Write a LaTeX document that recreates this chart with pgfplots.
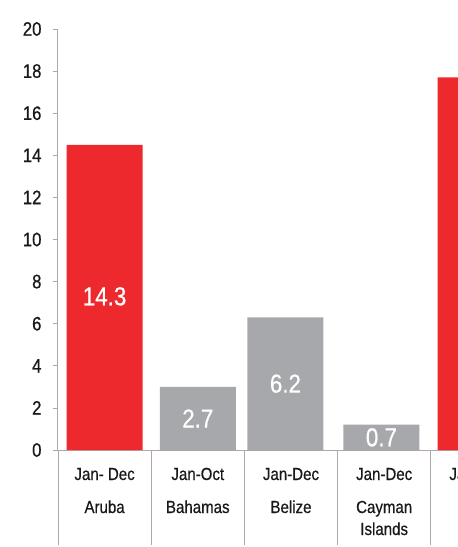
\documentclass[border=0pt]{standalone}
\usepackage{fontspec}
\setmainfont[FakeStretch=0.86, FakeBold=0.6]{Liberation Sans}
\usepackage{pgfplots}
\pgfplotsset{compat=1.18}
\definecolor{barred}{RGB}{237,41,46}
\definecolor{bargray}{RGB}{167,168,172}
\definecolor{axcol}{RGB}{176,166,166}
\begin{document}
\begin{tikzpicture}
\begin{axis}[
  scale only axis, width=466pt, height=421pt,
  xmin=-0.5, xmax=4.5, ymin=0, ymax=20,
  axis lines*=left,
  axis line style={axcol, line width=1pt},
  ytick={0,2,...,20}, xtick=\empty,
  tick align=outside, major tick length=5pt,
  tick style={axcol, line width=0.8pt},
  /pgf/number format/assume math mode=true,
  yticklabel style={font=\fontsize{19.5}{22}\selectfont, text=black!90, xshift=-8pt},
  clip=false,
  ybar, bar width=76pt, bar shift=0pt,
]
\addplot[fill=barred, draw=none] coordinates {(0,14.5) (3.98,17.7)};
\addplot[fill=bargray, draw=none] coordinates {(1,3.0) (1.94,6.3) (2.97,1.2)};
% separators below the axis
\pgfplotsinvokeforeach{-0.5,0.5,1.5,2.5,3.5,4.5}{
  \draw[axcol, line width=0.8pt] (axis cs:#1,0) -- ([yshift=-95pt]axis cs:#1,0);
}
% value labels
\begin{scope}[every node/.style={text=white, font=\fontsize{26}{30}\selectfont}]
\node at (axis cs:0,7.3) {14.3};
\node at (axis cs:1,1.5) {2.7};
\node at (axis cs:1.94,3.15) {6.2};
\node at (axis cs:2.97,0.6) {0.7};
\end{scope}
% category labels
\begin{scope}[every node/.style={text=black!90, font=\fontsize{17.5}{22}\selectfont, inner sep=0pt}]
\node[anchor=base] at ([yshift=-30pt]axis cs:0,0) {Jan- Dec};
\node[anchor=base] at ([yshift=-30pt]axis cs:1,0) {Jan-Oct};
\node[anchor=base] at ([yshift=-30pt]axis cs:2,0) {Jan-Dec};
\node[anchor=base] at ([yshift=-30pt]axis cs:3,0) {Jan-Dec};
\node[anchor=base] at ([yshift=-30pt]axis cs:4,0) {Jan-Dec};
\node[anchor=base] at ([yshift=-63pt]axis cs:0,0) {Aruba};
\node[anchor=base] at ([yshift=-63pt]axis cs:1,0) {Bahamas};
\node[anchor=base] at ([yshift=-63pt]axis cs:2,0) {Belize};
\node[anchor=base] at ([yshift=-63pt]axis cs:3,0) {Cayman};
\node[anchor=base] at ([yshift=-85pt]axis cs:3,0) {Islands};
\end{scope}
\end{axis}
\pgfresetboundingbox
\path[use as bounding box] ([shift={(-58pt,-97pt)}]current axis.south west) rectangle ([shift={(400pt,29pt)}]current axis.north west);
\end{tikzpicture}
\end{document}
